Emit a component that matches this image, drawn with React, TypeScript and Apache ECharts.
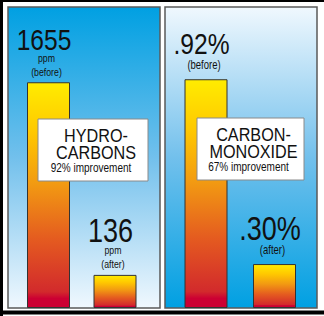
import React, { useEffect, useRef } from "react";
import * as echarts from "echarts";

// ---- data ----
const categories = ["before", "after"];
// bar heights as % of the panel height (the drawing is not to scale)
const hcHeights = [75, 11];
const coHeights = [76, 14.6];
const hcValueLabels = ["1655", "136"];
const hcUnitLabels = [["ppm", "(before)"], ["ppm", "(after)"]];
const coValueLabels = [".92%", ".30%"];
const coUnitLabels = [["(before)"], ["(after)"]];
const panelTitles = [["HYDRO-", "CARBONS"], ["CARBON-", "MONOXIDE"]];
const improvements = ["92% improvement", "67% improvement"];

const SANS = "'Liberation Sans', Arial, Helvetica, sans-serif";

const barGradient = () =>
  new echarts.graphic.LinearGradient(0, 0, 0, 1, [
    { offset: 0, color: "#ffec00" },
    { offset: 0.22, color: "#ffc800" },
    { offset: 0.45, color: "#f29a12" },
    { offset: 0.7, color: "#e45a20" },
    { offset: 0.93, color: "#d22a2c" },
    { offset: 0.96, color: "#cc0033" },
    { offset: 1, color: "#cc0033" },
  ]);

const skyDown = () =>
  new echarts.graphic.LinearGradient(0, 0, 0, 1, [
    { offset: 0, color: "#00a0e2" },
    { offset: 0.5, color: "#72c0ec" },
    { offset: 1, color: "#f0f8fe" },
  ]);
const skyUp = () =>
  new echarts.graphic.LinearGradient(0, 0, 0, 1, [
    { offset: 0, color: "#f0f8fe" },
    { offset: 0.5, color: "#72c0ec" },
    { offset: 1, color: "#00a0e2" },
  ]);

const txt = (
  x: number,
  y: number,
  text: string,
  fontSize: number,
  scaleX: number
) => ({
  type: "text",
  z: 30,
  x,
  y,
  scaleX,
  style: {
    text,
    fontFamily: SANS,
    fontSize,
    fill: "#111",
    align: "center",
    verticalAlign: "middle",
  },
});

export default function App() {
  const ref = useRef<HTMLDivElement>(null);
  useEffect(() => {
    if (!ref.current) return;
    const chart = echarts.init(ref.current, undefined, { renderer: "svg" });

    const makeSeries = (gridIndex: number, heights: number[]) => ({
      type: "bar",
      xAxisIndex: gridIndex,
      yAxisIndex: gridIndex,
      barWidth: 43,
      z: 5,
      data: heights,
      itemStyle: {
        color: barGradient(),
        borderColor: "#333333",
        borderWidth: 1,
      },
    });

    chart.setOption({
      animation: false,
      backgroundColor: "#ffffff",
      grid: [
        { left: 15.25, width: 133, top: 7, height: 301 },
        { left: 171.75, width: 137, top: 7, height: 301 },
      ],
      xAxis: [
        { type: "category", gridIndex: 0, data: categories, show: false },
        { type: "category", gridIndex: 1, data: categories, show: false },
      ],
      yAxis: [
        { type: "value", gridIndex: 0, min: 0, max: 100, show: false },
        { type: "value", gridIndex: 1, min: 0, max: 100, show: false },
      ],
      series: [makeSeries(0, hcHeights), makeSeries(1, coHeights)],
    });

    // value labels placed from the library's own scales
    const labelEls: any[] = [];
    const addLabels = (
      g: number,
      heights: number[],
      values: string[],
      units: string[][],
      bigSizes: number[],
      bigDy: number[],
      unitDy: number[][],
      unitSize: number
    ) => {
      heights.forEach((h, i) => {
        const p = chart.convertToPixel({ gridIndex: g }, [i, h]) as number[];
        const cx = p[0];
        const top = p[1];
        labelEls.push(txt(cx - 4.5, top + bigDy[i], values[i], bigSizes[i], 0.82));
        units[i].forEach((u, k) => {
          labelEls.push(txt(cx - 2, top + unitDy[i][k], u, unitSize, 0.76));
        });
      });
    };
    addLabels(0, hcHeights, hcValueLabels, hcUnitLabels, [30, 33], [-43, -44], [[-24, -10], [-25, -11]], 11.5);
    addLabels(1, coHeights, coValueLabels, coUnitLabels, [30, 33], [-35.5, -35.5], [[-15], [-15]], 12.5);

    const box = (x: number, y: number, w: number, h: number, title: string[], sub: string) => ({
      type: "group",
      z: 20,
      children: [
        {
          type: "rect",
          z: 20,
          shape: { x, y, width: w, height: h },
          style: { fill: "#ffffff", stroke: "#8a8a8a", lineWidth: 1 },
        },
        txt(x + w / 2 + 3, y + 17.5, title[0], 18, 0.9),
        txt(x + w / 2 + 3, y + 34.5, title[1], 18, 0.9),
        txt(x + w / 2 - 2, y + 47.5, sub, 13, 0.77),
      ],
    });

    chart.setOption({
      graphic: [
        {
          type: "rect",
          z: 0,
          shape: { x: 8, y: 7, width: 152, height: 301 },
          style: { fill: skyDown(), stroke: "#5a5a5a", lineWidth: 1.5 },
        },
        {
          type: "rect",
          z: 0,
          shape: { x: 165, y: 7, width: 152, height: 301 },
          style: { fill: skyUp(), stroke: "#5a5a5a", lineWidth: 1.5 },
        },
        { type: "line", z: 1, shape: { x1: 0, y1: 1, x2: 324, y2: 1 }, style: { stroke: "#000", lineWidth: 2 } },
        { type: "line", z: 1, shape: { x1: 1.5, y1: 0, x2: 1.5, y2: 316 }, style: { stroke: "#000", lineWidth: 3 } },
        { type: "line", z: 1, shape: { x1: 0, y1: 312.5, x2: 324, y2: 312.5 }, style: { stroke: "#000", lineWidth: 4 } },
        box(38, 119, 110, 62, panelTitles[0], improvements[0]),
        box(197, 118, 107, 62, panelTitles[1], improvements[1]),
        ...labelEls,
      ],
    });
    return () => chart.dispose();
  }, []);
  return <div ref={ref} style={{ width: 324, height: 316, position: "absolute", left: 0, top: 0 }} />;
}
